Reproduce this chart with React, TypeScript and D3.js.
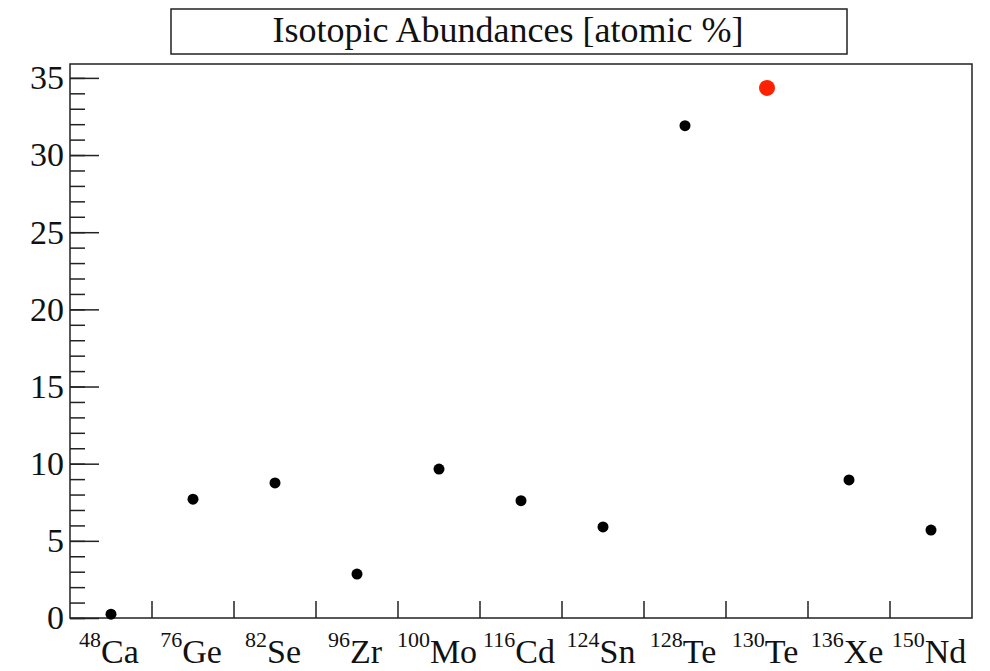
import * as d3 from "d3";
import React, { useEffect, useRef } from "react";

// isotopes (mass number + element) and abundance in atomic %
const massNumbers = ["48", "76", "82", "96", "100", "116", "124", "128", "130", "136", "150"];
const elements = ["Ca", "Ge", "Se", "Zr", "Mo", "Cd", "Sn", "Te", "Te", "Xe", "Nd"];
const abundances = [0.25, 7.7, 8.75, 2.85, 9.65, 7.6, 5.9, 31.9, 34.35, 8.95, 5.7];
const highlighted = [false, false, false, false, false, false, false, false, true, false, false];
const yTicks = [0, 5, 10, 15, 20, 25, 30, 35];

const App = () => {
  const svgRef = useRef<SVGSVGElement>(null);

  useEffect(() => {
    const width = 990;
    const height = 671;
    const left = 70;
    const right = 972;
    const top = 64;
    const bottom = 618;

    const svg = d3.select(svgRef.current).attr("width", width).attr("height", height);
    svg.selectAll("*").remove();

    const font = "'Liberation Serif', 'Times New Roman', serif";

    const idx = massNumbers.map((_, i) => i);
    const x = d3.scaleBand<number>().domain(idx).range([left, right]).padding(0);
    const y = d3.scaleLinear().domain([0, 35.9]).range([bottom, top]);

    // title box
    svg.append("rect")
      .attr("x", 171).attr("y", 9).attr("width", 676).attr("height", 45)
      .attr("fill", "white").attr("stroke", "#222").attr("stroke-width", 1.5);
    svg.append("text")
      .attr("x", 508).attr("y", 42)
      .attr("text-anchor", "middle")
      .attr("font-family", font).attr("font-size", 36).attr("fill", "#111")
      .text("Isotopic Abundances [atomic %]");

    // frame
    svg.append("rect")
      .attr("x", left).attr("y", top).attr("width", right - left).attr("height", bottom - top)
      .attr("fill", "none").attr("stroke", "#222").attr("stroke-width", 1.5);

    // y axis: minor ticks every 1, major every 5 (ticks inside)
    const yMinor = svg.append("g").attr("transform", `translate(${left},0)`)
      .call(d3.axisLeft(y).tickValues(d3.range(0, 36, 1)).tickSize(-15).tickFormat(() => ""));
    const yMajor = svg.append("g").attr("transform", `translate(${left},0)`)
      .call(d3.axisLeft(y).tickValues(yTicks).tickSize(-29).tickPadding(6).tickFormat(d3.format("d")));
    [yMinor, yMajor].forEach((g) => {
      g.select(".domain").remove();
      g.selectAll("line").attr("stroke", "#222").attr("stroke-width", 1.5);
    });
    yMajor.selectAll("text")
      .attr("font-family", font).attr("font-size", 34).attr("fill", "#111");

    // x axis: tick lines at bin edges, labels at bin centres
    const edges = idx.slice(1).map((i) => x(i) as number);
    svg.append("g").selectAll("line").data(edges).join("line")
      .attr("x1", (d) => d).attr("x2", (d) => d)
      .attr("y1", bottom).attr("y2", bottom - 17)
      .attr("stroke", "#222").attr("stroke-width", 1.5);

    const labels = svg.append("g").selectAll("text").data(idx).join("text")
      .attr("x", (i) => (x(i) as number) + x.bandwidth() / 2 - 2)
      .attr("y", 663)
      .attr("text-anchor", "middle")
      .attr("font-family", font).attr("font-size", 34).attr("fill", "#111");
    labels.append("tspan")
      .attr("font-size", 22).attr("dy", -16)
      .text((i) => massNumbers[i]);
    labels.append("tspan")
      .attr("dy", 16)
      .text((i) => elements[i]);

    // points
    svg.append("g").selectAll("circle").data(idx).join("circle")
      .attr("cx", (i) => (x(i) as number) + x.bandwidth() / 2)
      .attr("cy", (i) => y(abundances[i]))
      .attr("r", (i) => (highlighted[i] ? 8 : 5.5))
      .attr("fill", (i) => (highlighted[i] ? "#ff2200" : "#000"));
  }, []);

  return <svg ref={svgRef} style={{ position: "absolute", left: 0, top: 0 }}></svg>;
};

export default App;
